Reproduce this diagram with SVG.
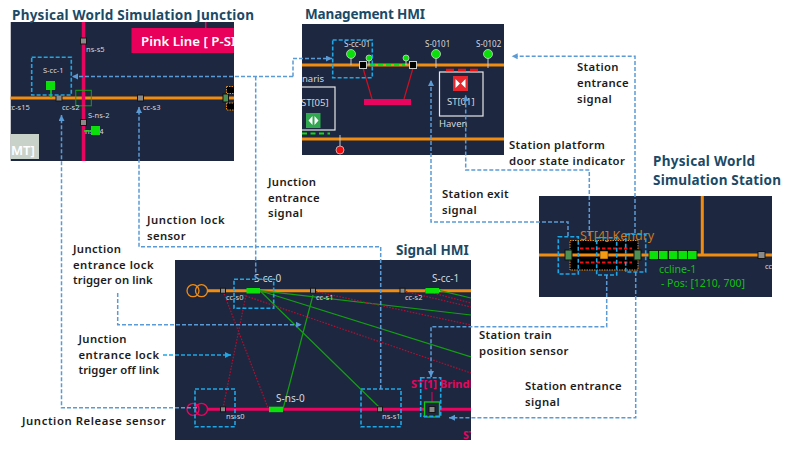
<svg xmlns="http://www.w3.org/2000/svg" width="800" height="453" viewBox="0 0 800 453">
<style>
text{font-family:"Noto Sans","Open Sans","Liberation Sans",sans-serif}
.title{font-size:13.5px;font-weight:700;fill:#1b4a66}
.lab{font-size:11.300px;letter-spacing:.35px;font-weight:600;fill:#1c1c1c}
.s{font-size:7.500px;fill:#d6d8dc}
.m{font-size:9.500px;fill:#d6d8dc}
.panel{fill:#1d2740}
.or{stroke:#f28c0f;stroke-width:3;fill:none}
.pk{stroke:#e8055f;stroke-width:3;fill:none}
.box{fill:none;stroke:#1ea7e6;stroke-width:1.600;stroke-dasharray:4 2}
.con{fill:none;stroke:#5b9bd5;stroke-width:1.500;stroke-dasharray:4 2}
.con2{fill:none;stroke:#1ea7e6;stroke-width:1.500;stroke-dasharray:4 2}
.nd{fill:#8a8a8a;stroke:#151515;stroke-width:1}
.gr{stroke:#12a012;stroke-width:1.200;fill:none}
.rd{stroke:#b01030;stroke-width:1.200;stroke-dasharray:1.600 1.400;fill:none}
.sig{fill:#0be00b}
.ring{fill:#0be00b;stroke:#c8d8c8;stroke-width:.8}
.stem{stroke:#c8c8c8;stroke-width:1}
</style>
<defs>
<marker id="a" markerWidth="7" markerHeight="7" refX="6" refY="3" orient="auto" markerUnits="userSpaceOnUse"><path d="M0 0L6 3L0 6z" fill="#5b9bd5"/></marker>
<marker id="b" markerWidth="7" markerHeight="7" refX="6" refY="3" orient="auto" markerUnits="userSpaceOnUse"><path d="M0 0L6 3L0 6z" fill="#1ea7e6"/></marker>
<clipPath id="c1"><rect x="10.500" y="22" width="223.500" height="139"/></clipPath>
<clipPath id="c2"><rect x="302" y="24" width="202" height="131"/></clipPath>
<clipPath id="c3"><rect x="539" y="196" width="233" height="101"/></clipPath>
<clipPath id="c4"><rect x="175" y="260" width="296" height="180"/></clipPath>
</defs>
<rect width="800" height="453" fill="#fff"/>

<g id="junction-sim" clip-path="url(#c1)">
<rect class="panel" x="10.500" y="22" width="223.500" height="139"/>
<path class="or" d="M10 98H234"/>
<path d="M83.500 22V161" stroke="#e8055f" stroke-width="3.500"/>
<path d="M205.700 22V28" stroke="#e8055f" stroke-width="1.500"/>
<rect x="131.500" y="28" width="103" height="25" fill="#e8005a"/>
<text x="141" y="46" font-size="13.300" font-weight="600" fill="#fff">Pink Line [ P-SI</text>
<rect x="10" y="134" width="29" height="25" fill="#c9d2c9"/>
<text x="11" y="155" font-size="13" font-weight="600" fill="#fff">MT]</text>
<rect x="75.800" y="90.300" width="15.500" height="15.500" fill="none" stroke="#0fa50f"/>
<rect class="nd" x="80.500" y="38" width="6" height="6"/><rect class="nd" x="56" y="95" width="6" height="6"/><rect class="nd" x="137.500" y="95" width="6" height="6"/><rect class="nd" x="80.500" y="119.500" width="6" height="6"/>
<text class="s" x="86" y="52">ns-s5</text><text class="s" x="43" y="73">S-cc-1</text><text class="s" x="8" y="110">cc-s15</text><text class="s" x="62" y="110">cc-s2</text><text class="s" x="143" y="110">cc-s3</text><text class="s" x="88" y="118">S-ns-2</text><text class="s" x="85" y="134">ns-s4</text>
<path d="M51 90V98M84 131H95" stroke="#0be00b" stroke-width="1.500"/>
<rect class="sig" x="46" y="81" width="9" height="9"/><rect class="sig" x="91" y="126" width="9" height="9"/>
<rect x="223" y="94" width="5.500" height="8" fill="#4d8f55" stroke="#111"/>
<rect x="226.500" y="86.500" width="10" height="7" fill="#000" stroke="#e58a14" stroke-dasharray="1.500 1"/>
<rect x="226.500" y="103" width="10" height="7" fill="#000" stroke="#e58a14" stroke-dasharray="1.500 1"/>
<rect class="box" x="31.700" y="57.300" width="39.600" height="37.700"/>
</g>

<g id="management-hmi" clip-path="url(#c2)">
<rect class="panel" x="302" y="24" width="202" height="131"/>
<path class="or" d="M302 65H504M302 139H504"/>
<path d="M370 65H405" stroke="#0be00b" stroke-width="2" stroke-dasharray="5 3"/>
<path class="stem" d="M351 54V65M369 58V65M406 58V65M436 54V68M488 54V68M340 135V150"/>
<circle class="ring" cx="351" cy="54" r="4.500"/><circle class="ring" cx="369" cy="58" r="3"/><circle class="ring" cx="406" cy="58" r="3"/><circle class="ring" cx="436" cy="54" r="4.500"/><circle class="ring" cx="488" cy="54" r="4.500"/>
<circle cx="340" cy="150" r="4" fill="#f00d0d" stroke="#d8c8c8" stroke-width=".8"/>
<text class="s" x="344" y="47" style="font-size:8px">S-cc-01</text><text class="s" x="425" y="47" style="font-size:8px">S-0101</text><text class="s" x="476" y="47" style="font-size:8px">S-0102</text>
<path d="M363 68L372 99M413 68L404 99" stroke="#d10f20" stroke-width="1.200"/>
<rect x="364" y="99" width="47" height="6" fill="#e8055f"/>
<rect x="359.500" y="61.500" width="7" height="7" fill="#000" stroke="#ccc"/><rect x="409.500" y="61.500" width="7" height="7" fill="#000" stroke="#ccc"/>
<text class="m" x="302" y="82">naris</text>
<rect x="295" y="87" width="40" height="43" fill="none" stroke="#e8e8e8" stroke-width="1.200"/>
<text class="m" x="301" y="106">ST[05]</text>
<rect x="306" y="113" width="14.500" height="15" fill="#2fa84f"/>
<path d="M312.500 116V125L308.500 120.500zM314.500 116V125L318.500 120.500z" fill="#fff"/>
<path d="M302 133.500H330" stroke="#0be00b" stroke-width="2" stroke-dasharray="5 3.500"/>
<rect x="439.500" y="72" width="43.500" height="44" fill="none" stroke="#e8e8e8" stroke-width="1.200"/>
<path d="M446 70H454M458 70H466M470 70H478" stroke="#f01010" stroke-width="2.500"/>
<rect x="453" y="76" width="15" height="15" fill="#e8262e"/>
<path d="M455.500 79V88L460 83.500zM465.500 79V88L461 83.500z" fill="#fff"/>
<text class="m" x="447" y="105">ST[01]</text>
<text class="m" x="439" y="127">Haven</text>
<rect class="box" x="332.700" y="40" width="39.600" height="37.700"/>
</g>

<g id="station-sim" clip-path="url(#c3)">
<rect class="panel" x="539" y="196" width="233" height="101"/>
<path class="or" d="M539 255H772M702.300 196V255"/>
<rect x="570" y="240.500" width="68" height="29.500" fill="#000" stroke="#e58a14" stroke-dasharray="1.500 1"/>
<path class="or" d="M570 255H638"/>
<path d="M580 248.500H632M580 262.500H632" stroke="#f01010" stroke-width="2" stroke-dasharray="3.500 2"/>
<text x="580" y="240" font-size="12.500" fill="#c8781e">ST[4] Kendry</text>
<rect x="565" y="250" width="7" height="10" fill="#4d8f55" stroke="#111"/><rect x="634" y="250" width="7" height="10" fill="#4d8f55" stroke="#111"/>
<rect x="600" y="251" width="8" height="8" fill="#f59a12" stroke="#111" stroke-width=".5"/>
<g class="sig" stroke="#111" stroke-width=".8"><rect x="649" y="250.500" width="9.500" height="9"/><rect x="658.500" y="250.500" width="9.500" height="9"/><rect x="668.500" y="250.500" width="9.500" height="9"/><rect x="678" y="250.500" width="9.500" height="9"/><rect x="687.500" y="250.500" width="9.500" height="9"/></g>
<rect class="nd" x="758" y="251.500" width="7" height="7"/>
<text x="659" y="273" font-size="10.500" fill="#12c012">ccline-1</text>
<text x="661" y="287" font-size="10.500" fill="#12c012">- Pos: [1210, 700]</text>
<text class="s" x="765" y="269">cc</text>
<rect class="box" x="558.300" y="236.700" width="20" height="37.300"/><rect class="box" x="596.700" y="237.700" width="20" height="37.300"/><rect class="box" x="625.700" y="234.300" width="20" height="37.700"/>
</g>

<g id="signal-hmi" clip-path="url(#c4)">
<rect class="panel" x="175" y="260" width="296" height="180"/>
<path class="or" d="M207 290.700H471"/><path class="pk" d="M207 409.300H471"/>
<circle cx="193" cy="290.700" r="6" fill="none" stroke="#f28c0f" stroke-width="1.300"/><circle cx="201.500" cy="290.700" r="6" fill="none" stroke="#f28c0f" stroke-width="1.300"/>
<circle cx="193" cy="409.300" r="6" fill="none" stroke="#e8055f" stroke-width="1.300"/><circle cx="201.500" cy="409.300" r="6" fill="none" stroke="#e8055f" stroke-width="1.300"/>
<path class="gr" d="M260 290.700L471 315M260 290.700L471 357M260 290.700L380 408M313 295L283 409M440 290.700L471 298"/>
<path class="rd" d="M223 291L268 408M246 295L223 408M243 295L471 373M313 291L471 325M403 291L471 307M425 291L471 303"/>
<rect class="sig" x="246.500" y="288" width="13.500" height="5.500"/><rect class="sig" x="425.500" y="288" width="13.500" height="5.500"/><rect class="sig" x="269" y="406.700" width="14" height="5.500"/>
<g class="nd"><rect x="220.500" y="288.200" width="5" height="5"/><rect x="310.500" y="288.200" width="5" height="5"/><rect x="400" y="288.200" width="5" height="5"/><rect x="220.500" y="406.800" width="5" height="5"/><rect x="377.500" y="406.800" width="5" height="5"/></g>
<text class="s" x="226" y="300">cc-s0</text><text class="s" x="316" y="300">cc-s1</text><text class="s" x="405" y="300">cc-s2</text><text class="s" x="226" y="419">ns-s0</text><text class="s" x="382" y="419">ns-s1</text>
<text x="254" y="282" font-size="10" fill="#d6d8dc">S-cc-0</text><text x="432" y="282" font-size="10" fill="#d6d8dc">S-cc-1</text><text x="276" y="402" font-size="10" fill="#d6d8dc">S-ns-0</text>
<text x="411" y="388" font-size="11" font-weight="700" fill="#e8055f">ST[1] Brindley</text>
<path d="M432 392V405" stroke="#e8055f"/>
<rect x="424.500" y="402" width="15" height="15" fill="#1d2740" stroke="#0fd00f" stroke-width="1.300"/>
<rect class="nd" x="429" y="406.500" width="6" height="6"/>
<text x="463" y="439" font-size="10.500" font-weight="700" fill="#e8055f">ST</text>
<rect class="box" x="234" y="279.300" width="39.700" height="29"/><rect class="box" x="195" y="389" width="40" height="37.700"/><rect class="box" x="361" y="389" width="40" height="37.700"/><rect class="box" x="420.700" y="377.700" width="20" height="38.600"/>
</g>

<g id="connectors">
<path class="con" d="M293 76.500V58.500H332" marker-end="url(#a)"/>
<path class="con" d="M293 76.500H72" marker-end="url(#a)"/>
<path class="con" d="M255.700 76.500V279"/>
<path class="con" d="M380.700 389V246.700H139V107" marker-end="url(#a)"/>
<path class="con" d="M197 407.700H61.500V115" marker-end="url(#a)"/>
<path class="con" d="M117.700 293V324.700H301.700" marker-end="url(#a)"/>
<path class="con2" d="M163 355H231" marker-end="url(#b)"/>
<path class="con" d="M568 236V222H431V80" marker-end="url(#a)"/>
<path class="con" d="M589.300 236V170H465.700V95" marker-end="url(#a)"/>
<path class="con" d="M635 233V56.300H511.700" marker-end="url(#a)"/>
<path class="con" d="M635.700 272V417.700H449" marker-end="url(#a)"/>
<path class="con" d="M606.700 275V326.700H431V377" marker-end="url(#a)"/>
</g>

<g id="labels">
<text class="title" x="12" y="20" textLength="242">Physical World Simulation Junction</text>
<text class="title" x="305" y="19" textLength="120">Management HMI</text>
<text class="title" x="653" y="166" textLength="102">Physical World</text>
<text class="title" x="653" y="184.500" textLength="128">Simulation Station</text>
<text class="title" x="396" y="255">Signal HMI</text>
<text class="lab" x="577" y="71">Station</text><text class="lab" x="577" y="87">entrance</text><text class="lab" x="577" y="103">signal</text>
<text class="lab" x="509" y="149">Station platform</text><text class="lab" x="509" y="165">door state indicator</text>
<text class="lab" x="442" y="198">Station exit</text><text class="lab" x="442" y="214">signal</text>
<text class="lab" x="268" y="186">Junction</text><text class="lab" x="268" y="201.700">entrance</text><text class="lab" x="268" y="217.400">signal</text>
<text class="lab" x="147" y="224" textLength="78">Junction lock</text><text class="lab" x="147" y="240">sensor</text>
<text class="lab" x="73" y="253">Junction</text><text class="lab" x="73" y="268.700" textLength="81">entrance lock</text><text class="lab" x="73" y="284.400" textLength="80">trigger on link</text>
<text class="lab" x="78.500" y="343">Junction</text><text class="lab" x="78.500" y="358.700" textLength="81">entrance lock</text><text class="lab" x="78.500" y="374.400" textLength="81">trigger off link</text>
<text class="lab" x="22" y="425" textLength="144">Junction Release sensor</text>
<text class="lab" x="479" y="339">Station train</text><text class="lab" x="479" y="355">position sensor</text>
<text class="lab" x="525" y="390">Station entrance</text><text class="lab" x="525" y="405.700">signal</text>
</g>
</svg>
